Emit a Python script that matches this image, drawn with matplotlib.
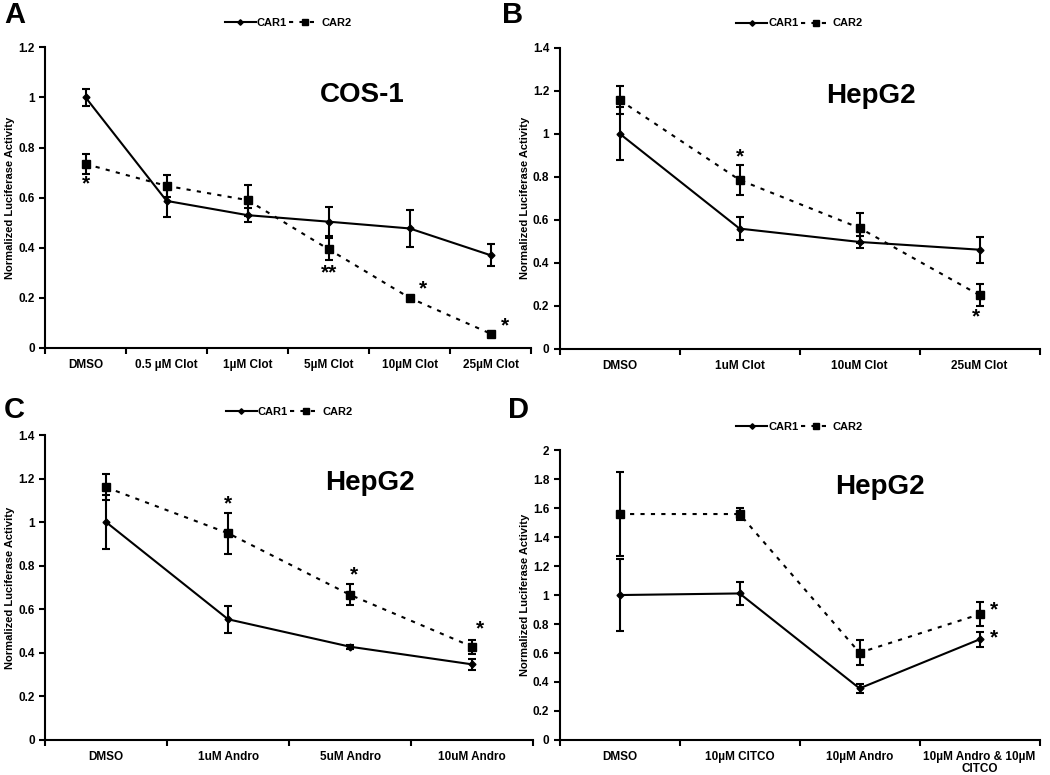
import matplotlib
matplotlib.use('Agg')
import matplotlib.pyplot as plt
import numpy as np

plt.rcParams['font.family'] = ['Liberation Sans', 'DejaVu Sans']
plt.rcParams['font.weight'] = 'bold'

# Panel A - COS-1, clotrimazole
a_labels = ['DMSO', '0.5 µM Clot', '1µM Clot', '5µM Clot', '10µM Clot', '25µM Clot']
a_car1 = [1.0, 0.587, 0.53, 0.504, 0.477, 0.37]
a_car1_err = [0.035, 0.063, 0.027, 0.057, 0.074, 0.044]
a_car2 = [0.734, 0.647, 0.59, 0.394, 0.2, 0.057]
a_car2_err = [0.039, 0.045, 0.062, 0.044, 0.0, 0.0]

# Panel B - HepG2, clotrimazole
b_labels = ['DMSO', '1uM Clot', '10uM Clot', '25uM Clot']
b_car1 = [1.0, 0.559, 0.497, 0.461]
b_car1_err = [0.123, 0.053, 0.029, 0.06]
b_car2 = [1.156, 0.785, 0.562, 0.25]
b_car2_err = [0.066, 0.07, 0.07, 0.051]

# Panel C - HepG2, andrographolide
c_labels = ['DMSO', '1uM Andro', '5uM Andro', '10uM Andro']
c_car1 = [1.0, 0.554, 0.428, 0.347]
c_car1_err = [0.123, 0.062, 0.01, 0.025]
c_car2 = [1.16, 0.949, 0.666, 0.428]
c_car2_err = [0.06, 0.093, 0.048, 0.032]

# Panel D - HepG2, andro + CITCO
d_labels = ['DMSO', '10µM CITCO', '10µM Andro', '10µM Andro & 10µM\nCITCO']
d_car1 = [1.0, 1.011, 0.356, 0.694]
d_car1_err = [0.25, 0.08, 0.03, 0.05]
d_car2 = [1.559, 1.559, 0.602, 0.867]
d_car2_err = [0.29, 0.04, 0.088, 0.082]

# stars: (category index, x offset, y value, text)
a_stars = [(0, 0.0, 0.655, '*'), (3, 0.0, 0.3, '**'), (4, 0.16, 0.235, '*'), (5, 0.18, 0.09, '*')]
b_stars = [(1, 0.0, 0.89, '*'), (3, -0.03, 0.15, '*')]
c_stars = [(1, 0.0, 1.085, '*'), (2, 0.03, 0.76, '*'), (3, 0.06, 0.51, '*')]
d_stars = [(3, 0.12, 0.9, '*'), (3, 0.12, 0.705, '*')]


def draw_panel(ax, labels, car1, e1, car2, e2, ymax, title, title_xy, stars, leg_y):
    n = len(labels)
    x = np.arange(n) + 0.5
    l1, = ax.plot(x, car1, color='black', lw=1.5, ls='-', marker='D', ms=3.5)
    l2, = ax.plot(x, car2, color='black', lw=1.5, ls=(0, (2, 3)), marker='s', ms=6)
    ax.errorbar(x, car1, yerr=e1, fmt='none', ecolor='black', capsize=3,
                elinewidth=1.5, capthick=1.5)
    ax.errorbar(x, car2, yerr=e2, fmt='none', ecolor='black', capsize=3,
                elinewidth=1.5, capthick=1.5)
    ax.set_xlim(0, n)
    ax.set_ylim(0, ymax)
    yt = np.arange(0, ymax + 1e-9, 0.2)
    ax.set_yticks(yt)
    ax.set_yticklabels(['%g' % v for v in yt], fontweight='bold')
    ax.set_xticks(x)
    ax.set_xticklabels(labels, fontsize=8.5, fontweight='bold', linespacing=1.0)
    ax.set_xticks(np.arange(n + 1), minor=True)
    ax.tick_params(axis='x', which='major', length=0, pad=8)
    ax.tick_params(axis='x', which='minor', length=4, width=1.5, direction='out')
    ax.tick_params(axis='y', length=4, width=1.5, labelsize=8.5)
    ax.spines['top'].set_visible(False)
    ax.spines['right'].set_visible(False)
    ax.spines['left'].set_linewidth(1.5)
    ax.spines['bottom'].set_linewidth(1.5)
    ax.set_ylabel('Normalized Luciferase Activity', fontsize=8, fontweight='bold', labelpad=2)
    ax.text(title_xy[0], title_xy[1], title, transform=ax.transAxes, fontsize=20,
            fontweight='bold', ha='center', va='center')
    for i, dx, yv, s in stars:
        ax.text(i + 0.5 + dx, yv, s, fontsize=15, fontweight='bold', ha='center', va='center')
    leg = ax.legend([l1, l2], ['CAR1', 'CAR2'], loc='center', bbox_to_anchor=(0.5, leg_y),
                    ncol=2, frameon=False, fontsize=8, handlelength=2.8,
                    columnspacing=0.2, handletextpad=0.1, markerscale=0.8)
    for t in leg.get_texts():
        t.set_fontweight('bold')


fig = plt.figure(figsize=(10.5, 7.75), dpi=100)
axA = fig.add_axes([0.0429, 0.551, 0.463, 0.388])
axB = fig.add_axes([0.533, 0.5497, 0.457, 0.389])
axC = fig.add_axes([0.0429, 0.0452, 0.465, 0.3935])
axD = fig.add_axes([0.533, 0.0452, 0.457, 0.374])

draw_panel(axA, a_labels, a_car1, a_car1_err, a_car2, a_car2_err, 1.2,
           'COS-1', (0.652, 0.84), a_stars, 1.08)
draw_panel(axB, b_labels, b_car1, b_car1_err, b_car2, b_car2_err, 1.4,
           'HepG2', (0.648, 0.84), b_stars, 1.08)
draw_panel(axC, c_labels, c_car1, c_car1_err, c_car2, c_car2_err, 1.4,
           'HepG2', (0.666, 0.843), c_stars, 1.075)
draw_panel(axD, d_labels, d_car1, d_car1_err, d_car2, d_car2_err, 2.0,
           'HepG2', (0.667, 0.872), d_stars, 1.08)

for txt, x, y in [('A', 0.004, 0.981), ('B', 0.478, 0.981), ('C', 0.004, 0.471), ('D', 0.484, 0.471)]:
    fig.text(x, y, txt, fontsize=21, fontweight='bold', ha='left', va='center')

fig.savefig('out.png', dpi=100)
